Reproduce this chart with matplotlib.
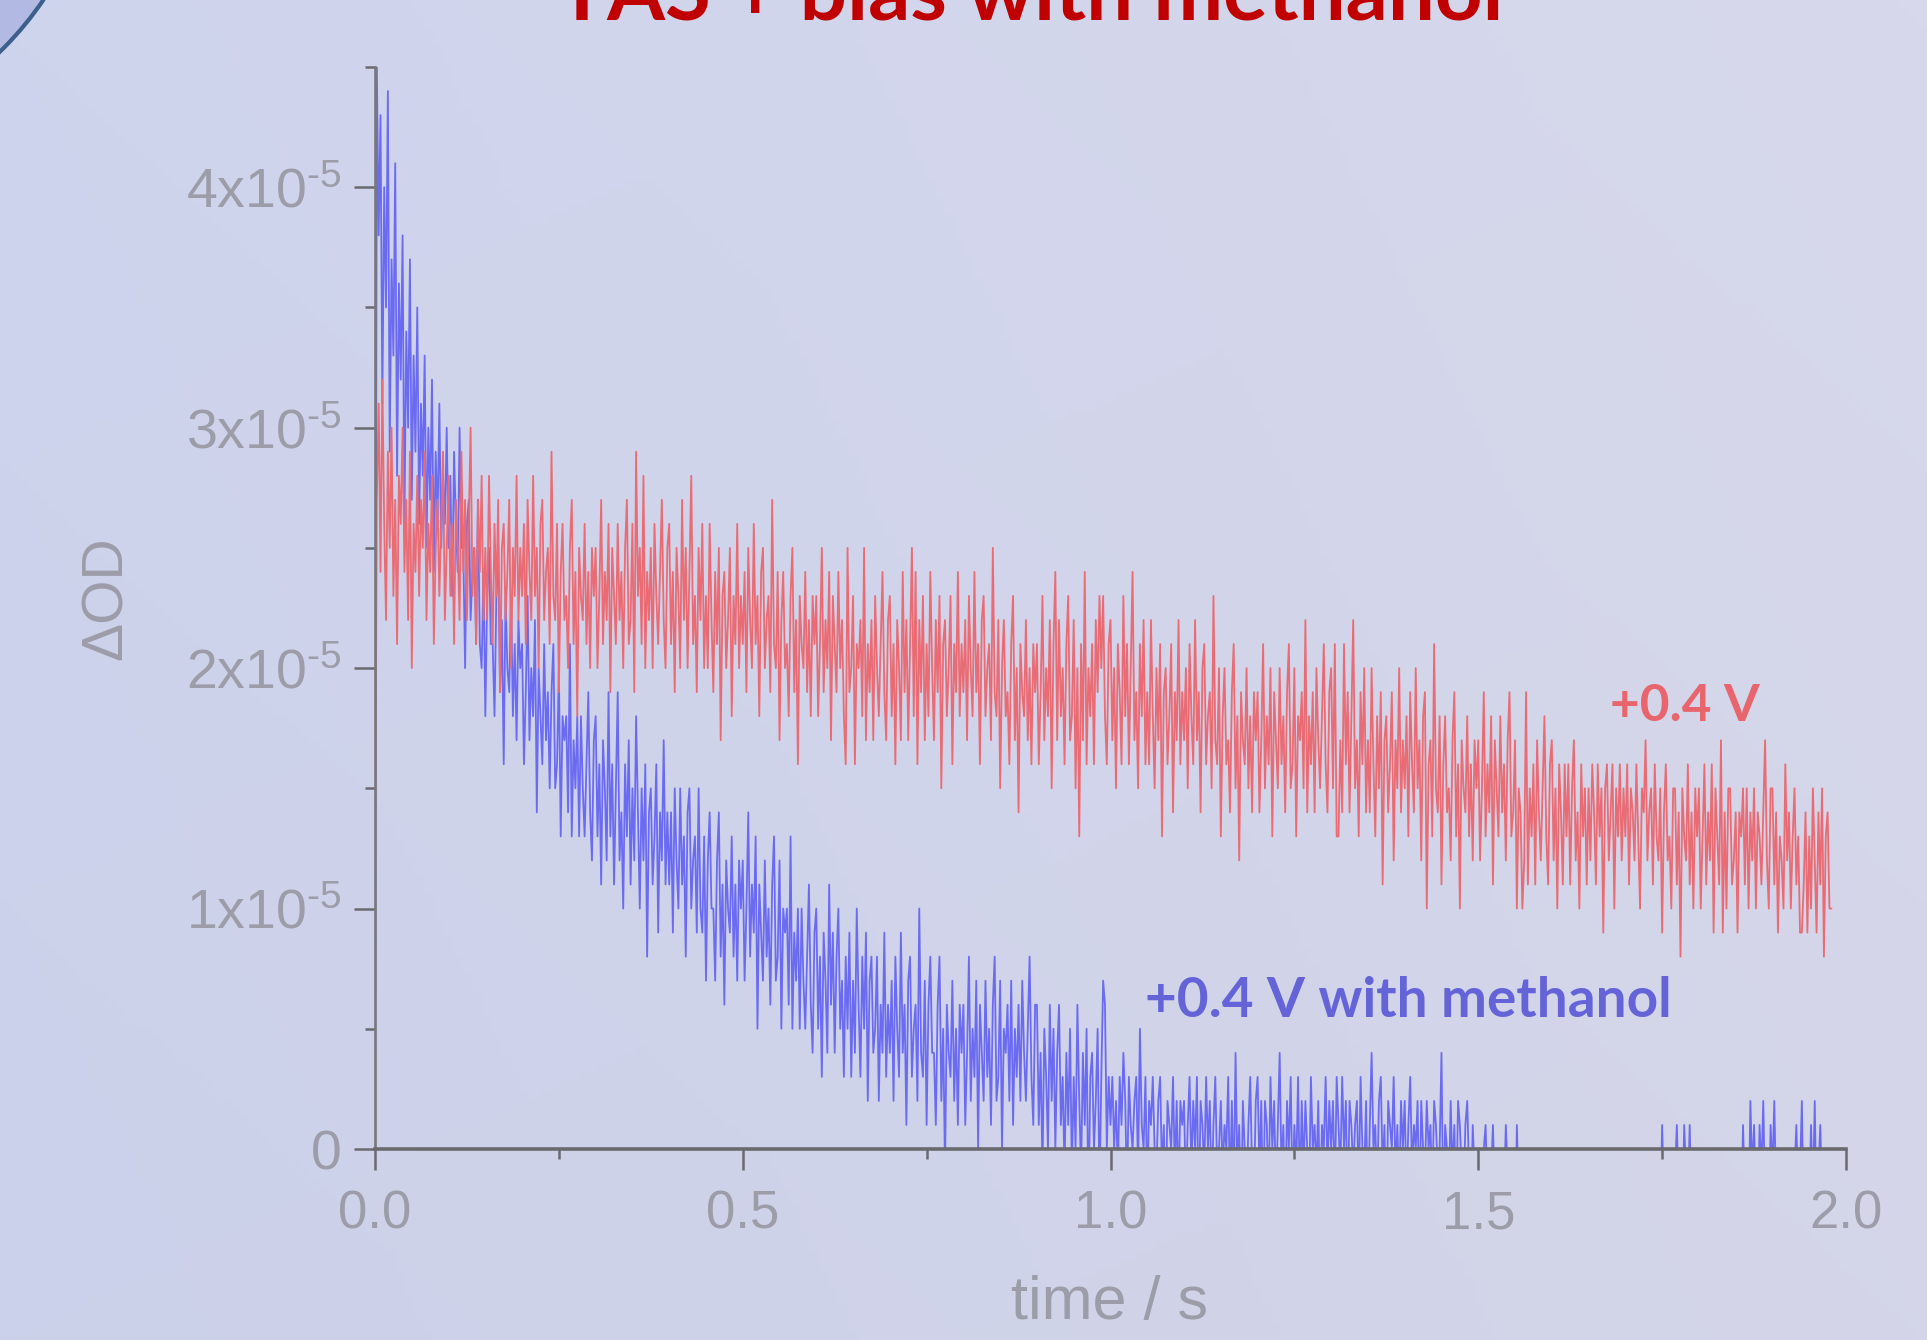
import numpy as np
import matplotlib
matplotlib.use('Agg')
import matplotlib.pyplot as plt
from matplotlib.patches import Circle
from matplotlib.ticker import MultipleLocator, FixedLocator, FixedFormatter

plt.rcParams['font.family'] = ['Liberation Sans', 'DejaVu Sans']
plt.rcParams['mathtext.fontset'] = 'custom'
plt.rcParams['mathtext.rm'] = 'Liberation Sans'

# sampling step of the traces (s)
dt = 0.0025

# ΔOD at +0.4 V, units of 1e-6, one row = 0.1 s
od_bias = [
    11, 27, 31, 24, 32, 26, 22, 29, 25, 30, 23, 27, 21, 28, 26, 30, 24, 27, 22, 29,
    20, 26, 24, 28, 23, 27, 25, 29, 22, 26, 24, 28, 21, 25, 27, 23, 26, 29, 22, 25,
    28, 23, 26, 21, 27, 25, 22, 29, 24, 27, 22, 26, 30, 23, 25, 21, 27, 24, 28, 22,
    25, 22, 28, 24, 21, 26, 23, 27, 19, 25, 26, 22, 24, 27, 20, 25, 23, 28, 22, 25,
    23, 26, 21, 27, 24, 22, 28, 23, 25, 20, 26, 27, 22, 24, 25, 21, 29, 23, 22, 26,
    19, 24, 26, 22, 23, 20, 25, 27, 21, 24, 18, 25, 23, 22, 26, 21, 24, 20, 25, 23,
    25, 20, 23, 27, 21, 24, 22, 26, 19, 25, 23, 21, 26, 22, 24, 20, 25, 27, 21, 22,
    26, 19, 29, 23, 25, 21, 28, 20, 24, 22, 25, 20, 26, 23, 21, 24, 27, 22, 20, 25,
    26, 21, 24, 19, 25, 23, 20, 27, 22, 25, 20, 24, 28, 21, 23, 19, 25, 22, 26, 20,
    23, 20, 26, 22, 19, 24, 21, 25, 17, 23, 24, 20, 22, 25, 18, 23, 21, 26, 20, 23,
    21, 24, 19, 25, 22, 20, 26, 21, 23, 18, 24, 25, 20, 22, 23, 19, 27, 21, 20, 24,
    17, 22, 24, 20, 21, 18, 23, 25, 19, 22, 16, 23, 21, 20, 24, 19, 22, 18, 23, 21,
    23, 18, 21, 25, 19, 22, 20, 24, 17, 23, 21, 19, 24, 20, 22, 18, 16, 25, 19, 20,
    23, 16, 21, 20, 22, 18, 25, 17, 21, 19, 22, 17, 23, 20, 18, 21, 24, 19, 17, 22,
    23, 18, 21, 16, 22, 20, 17, 24, 19, 22, 17, 21, 25, 18, 24, 16, 22, 19, 23, 17,
    21, 18, 24, 20, 17, 22, 19, 23, 15, 21, 22, 18, 20, 23, 16, 21, 19, 24, 18, 21,
    19, 22, 17, 23, 20, 18, 24, 19, 21, 16, 22, 23, 18, 20, 21, 17, 25, 19, 18, 22,
    15, 20, 22, 18, 19, 16, 21, 23, 17, 20, 14, 21, 19, 18, 22, 17, 20, 16, 21, 19,
    21, 16, 19, 23, 17, 20, 18, 22, 15, 21, 24, 17, 22, 18, 20, 16, 21, 23, 17, 18,
    22, 15, 20, 13, 21, 17, 24, 16, 20, 18, 21, 16, 22, 19, 23, 20, 23, 18, 16, 21,
    22, 17, 20, 15, 21, 19, 16, 23, 18, 21, 16, 20, 24, 17, 19, 15, 21, 18, 22, 16,
    19, 16, 22, 18, 15, 20, 17, 21, 13, 19, 20, 16, 18, 21, 14, 19, 17, 22, 16, 19,
    17, 20, 15, 21, 18, 16, 22, 17, 19, 14, 20, 21, 16, 18, 19, 15, 23, 17, 16, 20,
    13, 18, 20, 16, 17, 14, 19, 21, 15, 18, 12, 19, 17, 16, 20, 15, 18, 14, 19, 17,
    19, 14, 17, 21, 15, 18, 16, 20, 13, 19, 17, 15, 20, 16, 18, 14, 19, 21, 15, 16,
    20, 13, 18, 17, 19, 15, 22, 14, 18, 16, 19, 14, 20, 17, 15, 18, 21, 16, 14, 19,
    20, 15, 21, 13, 13, 17, 14, 21, 16, 19, 14, 18, 22, 15, 17, 13, 19, 16, 20, 14,
    17, 14, 20, 16, 13, 18, 15, 19, 11, 17, 18, 14, 16, 19, 12, 17, 15, 20, 14, 17,
    15, 18, 13, 19, 16, 14, 20, 15, 17, 12, 18, 19, 10, 16, 17, 13, 21, 15, 14, 18,
    11, 16, 18, 14, 15, 12, 17, 19, 13, 16, 10, 17, 15, 14, 18, 13, 16, 12, 17, 15,
    17, 12, 15, 19, 13, 16, 14, 18, 11, 17, 15, 13, 18, 14, 16, 12, 17, 19, 13, 14,
    17, 10, 15, 14, 10, 12, 19, 11, 15, 13, 16, 11, 17, 14, 12, 15, 18, 13, 11, 16,
    17, 12, 15, 10, 16, 14, 11, 16, 13, 16, 11, 15, 17, 12, 14, 10, 16, 13, 15, 11,
    15, 12, 16, 14, 11, 16, 13, 15, 9, 15, 16, 12, 14, 16, 10, 15, 13, 16, 12, 15,
    13, 16, 11, 15, 14, 12, 16, 13, 10, 15, 14, 17, 12, 14, 15, 11, 16, 13, 12, 15,
    9, 14, 16, 12, 13, 10, 15, 15, 11, 14, 8, 15, 13, 12, 16, 11, 14, 10, 15, 13,
    15, 10, 13, 16, 11, 14, 12, 16, 9, 15, 13, 11, 17, 9, 14, 10, 15, 15, 11, 12,
    14, 9, 14, 13, 15, 11, 15, 10, 14, 12, 15, 10, 14, 13, 11, 14, 17, 12, 10, 15,
    15, 11, 14, 9, 13, 12, 10, 16, 12, 14, 10, 13, 15, 11, 13, 9,
    9, 11, 14, 9, 13, 10, 15, 12, 9, 14, 11, 15, 8, 13, 14, 10, 10,
]

# ΔOD at +0.4 V with methanol, units of 1e-6
od_meoh = [
    0, 45, 38, 43, 31, 40, 35, 44, 29, 37, 33, 41, 28, 36, 32, 38, 26, 34, 30, 37,
    27, 33, 29, 35, 26, 31, 28, 33, 25, 30, 27, 32, 24, 29, 26, 31, 25, 28, 26, 30,
    25, 28, 23, 29, 26, 24, 30, 25, 25, 20, 26, 27, 22, 24, 25, 21, 27, 21, 20, 24,
    18, 23, 25, 21, 21, 18, 23, 25, 19, 22, 16, 23, 20, 19, 23, 18, 21, 17, 22, 20,
    21, 16, 19, 23, 17, 20, 18, 22, 14, 20, 18, 16, 21, 17, 19, 15, 19, 21, 15, 16,
    20, 13, 18, 17, 18, 14, 21, 13, 17, 15, 18, 13, 18, 15, 13, 16, 19, 14, 12, 17,
    18, 13, 16, 11, 17, 15, 12, 19, 13, 16, 11, 15, 19, 12, 14, 10, 16, 13, 17, 11,
    15, 12, 18, 14, 10, 15, 12, 16, 8, 14, 15, 11, 13, 16, 9, 14, 12, 17, 11, 14,
    11, 14, 9, 15, 12, 10, 15, 11, 13, 8, 14, 15, 10, 12, 13, 9, 15, 10, 9, 13,
    7, 12, 14, 10, 10, 7, 12, 14, 8, 11, 6, 12, 10, 9, 13, 8, 11, 7, 12, 10,
    12, 7, 10, 14, 8, 11, 9, 13, 5, 11, 9, 7, 12, 8, 10, 6, 11, 13, 7, 8,
    12, 5, 10, 9, 10, 6, 13, 5, 9, 7, 10, 5, 10, 7, 5, 8, 11, 6, 4, 9,
    10, 5, 8, 3, 9, 7, 4, 11, 6, 9, 4, 8, 10, 5, 7, 3, 8, 5, 9, 3,
    7, 4, 10, 6, 3, 8, 5, 9, 2, 7, 8, 4, 5, 8, 2, 6, 4, 9, 3, 6,
    4, 7, 2, 8, 5, 3, 9, 4, 6, 1, 7, 8, 3, 5, 6, 2, 10, 4, 3, 7,
    1, 6, 8, 4, 4, 1, 6, 8, 2, 5, -1, 6, 4, 3, 7, 2, 5, 1, 6, 4,
    6, 1, 4, 8, 2, 5, 3, 7, 0, 6, 4, 2, 7, 3, 5, 1, 6, 8, 2, 3,
    7, 0, 5, 4, 6, 2, 7, 1, 5, 3, 6, 2, 7, 4, 2, 5, 8, 3, 1, 6,
    6, 1, 4, -1, 5, 3, 0, 6, 2, 5, 0, 4, 6, 1, 3, -1, 4, 1, 5, -1,
    3, 0, 6, 2, -1, 4, 1, 5, -3, 3, 4, 0, 2, 5, -2, 3, 7, 6, 0, 3,
    1, 3, 0, 2, -1, 3, 1, 4, 2, -2, 3, 1, 0, 2, 3, -1, 5, 1, 0, 3,
    -2, 2, 1, 3, 0, -1, 2, 3, -1, 1, -3, 2, 1, 0, 3, -1, 2, -2, 2, 1,
    2, -2, 1, 3, -1, 2, 0, 3, -3, 2, 1, -1, 3, 0, 2, -2, 1, 3, -1, 0,
    2, -1, 1, 0, 3, -2, 2, -2, 4, -1, 1, -3, 2, 0, -2, 1, 3, -1, -2, 2,
    3, -1, 2, -3, 2, 1, -2, 3, 0, 2, -2, 1, 4, -1, 1, -3, 2, 0, 3, -2,
    1, -1, 3, -2, 2, -1, 2, 0, -2, 3, 0, 1, -1, 2, -3, 1, 0, 3, -1, 2,
    0, 2, -2, 3, 1, -1, 3, 0, 2, -3, 2, 1, -1, 1, 2, -2, 3, 0, -1, 2,
    -3, 1, 4, 0, 1, -2, 2, 3, -1, 1, -4, 2, 1, 0, 3, -1, 1, -2, 2, 0,
    2, -2, 1, 3, -1, 1, 0, 2, -3, 2, 0, -1, 2, 0, 1, -2, 2, 1, -1, 0,
    4, -3, 1, 0, -2, 2, -1, 1, -3, 2, 1, -1, -2, 1, 2, -1, -3, 1, -1, 0,
    -2, -1, -3, 0, 1, -2, -3, -1, 1, -2, -4, -1, 0, -3, -2, 1, -1, -3, -2, 0,
    -4, 1, -2, -3, -1, -2, -4, -3, -1, -2, -3, -2, -4, -1, -3, -2, -1, -3, -2, -4,
    -2, -3, -1, -4, -2, -3, -1, -2, -4, -3, -2, -1, 0, -3, -2, -4, -1, -3, -2, -4,
    -3, -1, -2, -3, -4, -2, -1, -3, -2, -4, -3, -2, -1, -3, -4, -2, -3, -1, -2, -3,
    -1, -3, 0, -2, -4, 0, -2, -3, -1, -3, -2, -4, -1, -3, -2, -4, -3, -2, -1, -3,
    1, -2, -3, -1, -4, -2, -3, -1, 1, -2, 0, -3, 1, -1, -2, 1, -3, -1, -2, -3,
    -2, -3, -1, -4, -2, -3, -1, -2, -4, -3, -2, -1, -3, -2, -4, -1, -3, -2, -4, -1,
    -3, -2, -1, -3, 1, -2, 0, -3, 2, -1, 1, -2, -3, 1, -1, 2, -2, 0, -3, 1,
    -1, 2, -2, -3, -1, -2, -4, -2, -1, -3, -2, -3, -1, 1, -2, -1, 2, -3, -1, 0,
    -2, 1, -2, 2, -3, -1, 1, -2, 0, -3, -1,
]

y_ticks = [0, 1e-5, 2e-5, 3e-5, 4e-5]
y_labels = ['0', '$\\mathregular{1x10^{\u20105}}$', '$\\mathregular{2x10^{\u20105}}$',
            '$\\mathregular{3x10^{\u20105}}$', '$\\mathregular{4x10^{\u20105}}$']
x_ticks = [0, 0.5, 1.0, 1.5, 2.0]
x_labels = ['0.0', '0.5', '1.0', '1.5', '2.0']

t_bias = np.arange(len(od_bias)) * dt
t_meoh = np.arange(len(od_meoh)) * dt
y_bias = np.array(od_bias) * 1e-6
y_meoh = np.array(od_meoh) * 1e-6

W, H = 1927, 1340
fig = plt.figure(figsize=(W / 100, H / 100), dpi=100)

# background: soft lavender gradient and the corner of a circle
bg = fig.add_axes([0, 0, 1, 1], zorder=-10)
gx = np.linspace(0, 1, 200)
gy = np.linspace(0, 1, 150)[:, None]
c_left = np.array([203, 209, 234]) / 255
c_right = np.array([212, 213, 232]) / 255
grad = c_left + (c_right - c_left) * gx[None, :, None]
grad = grad + 0.012 * (1 - gy[..., None])
bg.imshow(np.clip(grad, 0, 1), extent=[0, W, H, 0], aspect='auto')
bg.add_patch(Circle((-230, -185), 330, facecolor='#b2b9e2', edgecolor='#3d5f8c', lw=3))
bg.set_xlim(0, W)
bg.set_ylim(H, 0)
bg.axis('off')

ax = fig.add_axes([375 / W, 1 - 1149 / H, (1846 - 375) / W, (1149 - 67) / H])
ax.set_facecolor('none')

ax.plot(t_meoh, y_meoh, color='#6b6bf2', lw=1.3)
ax.plot(t_bias, y_bias, color='#ea6b73', lw=1.3)

ax.set_xlim(0, 2.0)
ax.set_ylim(0, 4.5e-5)

tick_gray = '#9c9da9'
axis_gray = '#6a6a6e'
for s in ['top', 'right']:
    ax.spines[s].set_visible(False)
ax.spines['left'].set_color('#78787c')
ax.spines['left'].set_linewidth(1.9)
ax.spines['bottom'].set_color(axis_gray)
ax.spines['bottom'].set_linewidth(2.6)

ax.xaxis.set_major_locator(FixedLocator(x_ticks))
ax.xaxis.set_major_formatter(FixedFormatter(x_labels))
ax.xaxis.set_minor_locator(MultipleLocator(0.25))
ax.yaxis.set_major_locator(FixedLocator(y_ticks))
ax.yaxis.set_major_formatter(FixedFormatter(y_labels))
ax.yaxis.set_minor_locator(MultipleLocator(0.5e-5))

ax.tick_params(which='major', length=15, width=1.8, color=axis_gray,
               labelcolor=tick_gray, labelsize=38, direction='out')
ax.tick_params(which='minor', length=7.5, width=1.8, color=axis_gray, direction='out')
ax.tick_params(axis='x', which='major', pad=14)
ax.tick_params(axis='y', which='major', pad=9, labelsize=40)

fig.text(107 / W, 1 - 598 / H, 'ΔOD', rotation=90, ha='center', va='center',
         fontsize=41, color=tick_gray)
fig.text(1110 / W, 1 - 1303 / H, 'time / s', ha='center', va='center',
         fontsize=44, color=tick_gray)

ax.text(1.679, 1.78e-5, '+0.4 V', color='#e8656d', fontsize=37,
        fontweight='bold', family=['Lato', 'DejaVu Sans'], va='baseline')
ax.text(1.047, 0.549e-5, '+0.4 V with methanol', color='#6464d8', fontsize=39.5,
        fontweight='bold', family=['Lato', 'DejaVu Sans'], va='baseline')

fig.text(1030 / W, 1 - 19 / H, 'TAS + bias with methanol', ha='center', va='baseline',
         fontsize=60, fontweight='bold', color='#c00000', family=['Lato', 'DejaVu Sans'])

fig.savefig('out.png', dpi=100)
